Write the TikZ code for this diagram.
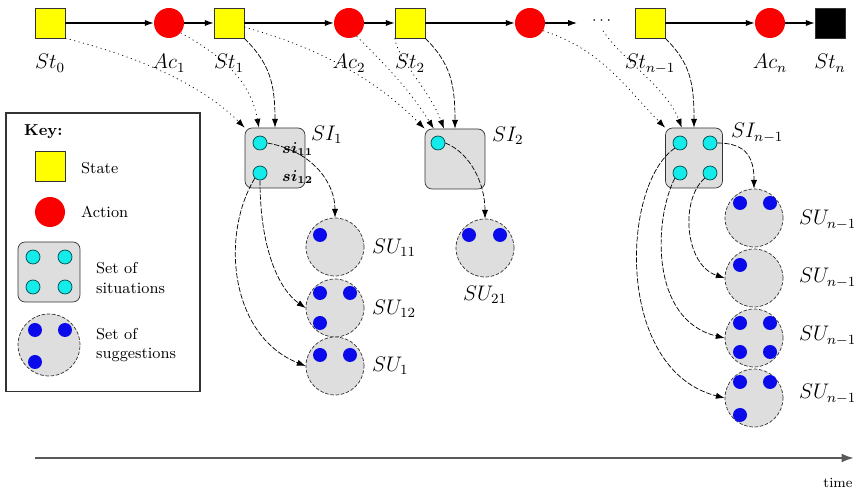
\documentclass[tikz,border=0pt]{standalone}
\usepackage{amsmath}
\usepackage{tikz}
\usetikzlibrary{positioning, arrows.meta, calc}
\definecolor{stateyellow}{RGB}{255,255,0}
\definecolor{actionred}{RGB}{250,0,0}
\definecolor{setgray}{RGB}{222,222,222}
\definecolor{sitcyan}{RGB}{20,235,235}
\definecolor{sugblue}{RGB}{10,10,235}
\tikzset{
  state/.style={rectangle, minimum size=0.6cm, inner sep=0pt, draw=black!80, fill=stateyellow},
  action/.style={circle, minimum size=0.6cm, inner sep=0pt, fill=actionred},
  sitset/.style={rectangle, rounded corners=4pt, minimum width=1.2cm, minimum height=1.2cm, inner sep=0pt, draw=black!80, fill=setgray},
  sugset/.style={circle, minimum size=1.16cm, inner sep=0pt, draw=black!80, dash pattern=on 2pt off 1pt, fill=setgray},
  sitdot/.style={circle, minimum size=0.28cm, inner sep=0pt, draw=teal!60!black, fill=sitcyan},
  sugdot/.style={circle, minimum size=0.28cm, inner sep=0pt, fill=sugblue},
  lbl/.style={font=\large},
  arrow/.style={line width=0.6pt, ->, >={Latex[length=5pt,width=3.5pt]}},
  history/.style={->, >={Latex[length=5pt,width=3.5pt]}, dash pattern=on 0.6pt off 2pt},
  link/.style={->, >={Latex[length=5pt,width=3.5pt]}, dash pattern=on 3pt off 1pt},
  timeline/.style={line width=1.2pt, draw=black!65, -{Latex[length=7pt,width=5pt]}}
}
\begin{document}
\begin{tikzpicture}[x=0.02cm, y=-0.02cm, every node/.style={font=\small}]
    \useasboundingbox (0,0) rectangle (859,492);

    % states and actions along the top
    \node (St0) [state] at (50,23) {};
    \node (Ac1) [action] at (169,23) {};
    \node (St1) [state] at (229,23) {};
    \node (Ac2) [action] at (349,23) {};
    \node (St2) [state] at (410,23) {};
    \node (Ac3) [action] at (530,23) {};
    \coordinate (gap) at (577,23);
    \node (dots) at (603,21) {$\cdots$};
    \node (Stn1) [state] at (650,23) {};
    \node (Acn) [action] at (770,23) {};
    \node (Stn) [state, fill=black] at (830,23) {};

    \node (lSt0) [lbl, below=0.2cm of St0] {$St_0$};
    \node (lAc1) [lbl, below=0.2cm of Ac1] {$Ac_1$};
    \node (lSt1) [lbl, below=0.2cm of St1] {$St_1$};
    \node (lAc2) [lbl, below=0.2cm of Ac2] {$Ac_2$};
    \node (lSt2) [lbl, below=0.2cm of St2] {$St_2$};
    \node (lStn1) [lbl, below=0.2cm of Stn1] {$St_{n-1}$};
    \node (lAcn) [lbl, below=0.2cm of Acn] {$Ac_n$};
    \node (lStn) [lbl, below=0.2cm of Stn] {$St_n$};

    \draw [arrow] (St0) -- (Ac1);
    \draw [arrow] (Ac1) -- (St1);
    \draw [arrow] (St1) -- (Ac2);
    \draw [arrow] (Ac2) -- (St2);
    \draw [arrow] (St2) -- (Ac3);
    \draw [arrow] (Ac3) -- (gap);
    \draw [arrow] (Stn1) -- (Acn);
    \draw [arrow] (Acn) -- (Stn);

    % key
    \node (keybox) [draw=black!80, line width=0.6pt, minimum width=3.88cm, minimum height=5.58cm, inner sep=0pt] at (103,252.5) {};
    \node (keytitle) [font=\small\bfseries, anchor=west] at (18,132) {Key:};
    \node (keyState) [state] at (50,166) {};
    \node (keyStateText) [anchor=west] at (75,168) {State};
    \node (keyAction) [action] at (50,212) {};
    \node (keyActionText) [anchor=west] at (75,212) {Action};
    \node (keySit) [sitset, minimum width=1.24cm] at (49,272) {};
    \node (keySit1) [sitdot] at (33,257) {};
    \node (keySit2) [sitdot] at (65,257) {};
    \node (keySit3) [sitdot] at (33,287) {};
    \node (keySit4) [sitdot] at (65,287) {};
    \node (keySitText) [anchor=west, align=left] at (90,278) {Set of\\situations};
    \node (keySug) [sugset, minimum size=1.24cm] at (49,345) {};
    \node (keySug1) [sugdot] at (35,330) {};
    \node (keySug2) [sugdot] at (65,330) {};
    \node (keySug3) [sugdot] at (35,362) {};
    \node (keySugText) [anchor=west, align=left] at (90,345) {Set of\\suggestions};

    % first set of situations
    \node (SI1) [sitset] at (275,158) {};
    \node (si11) [sitdot] at (260,143) {};
    \node (si12) [sitdot] at (260,173) {};
    \node (lsi11) [font=\small\boldmath, anchor=west] at (276,149) {$si_{11}$};
    \node (lsi12) [font=\small\boldmath, anchor=west] at (276,177) {$si_{12}$};
    \node (lSI1) [lbl, anchor=west] at (305,135) {$SI_1$};

    \node (SU11) [sugset] at (335,247) {};
    \node (SU11a) [sugdot] at (320,235) {};
    \node (lSU11) [lbl, anchor=west] at (366,248) {$SU_{11}$};
    \node (SU12) [sugset] at (335,308) {};
    \node (SU12a) [sugdot] at (320,293) {};
    \node (SU12b) [sugdot] at (350,293) {};
    \node (SU12c) [sugdot] at (320,323) {};
    \node (lSU12) [lbl, anchor=west] at (366,309) {$SU_{12}$};
    \node (SU1) [sugset] at (335,366) {};
    \node (SU1a) [sugdot] at (320,355) {};
    \node (SU1b) [sugdot] at (350,355) {};
    \node (lSU1) [lbl, anchor=west] at (366,366) {$SU_1$};

    % second set of situations
    \node (SI2) [sitset] at (455,159) {};
    \node (si21) [sitdot] at (438,143) {};
    \node (lSI2) [lbl, anchor=west] at (486,136) {$SI_2$};
    \node (SU21) [sugset] at (485,248) {};
    \node (SU21a) [sugdot] at (469,235) {};
    \node (SU21b) [sugdot] at (500,235) {};
    \node (lSU21) [lbl, below=0.05cm of SU21] {$SU_{21}$};

    % last set of situations
    \node (SIn1) [sitset, minimum width=1.14cm] at (694,158) {};
    \node (sin11) [sitdot] at (680,143) {};
    \node (sin12) [sitdot] at (710,143) {};
    \node (sin21) [sitdot] at (680,173) {};
    \node (sin22) [sitdot] at (710,173) {};
    \node (lSIn1) [lbl, anchor=west] at (725,133) {$SI_{n-1}$};

    \node (SUa) [sugset] at (754,218) {};
    \node (SUa1) [sugdot] at (740,203) {};
    \node (SUa2) [sugdot] at (770,203) {};
    \node (lSUa) [lbl, anchor=west] at (793,220) {$SU_{n-1}$};
    \node (SUb) [sugset] at (754,278) {};
    \node (SUb1) [sugdot] at (740,265) {};
    \node (lSUb) [lbl, anchor=west] at (793,278) {$SU_{n-1}$};
    \node (SUc) [sugset] at (754,338) {};
    \node (SUc1) [sugdot] at (740,323) {};
    \node (SUc2) [sugdot] at (770,323) {};
    \node (SUc3) [sugdot] at (740,352) {};
    \node (SUc4) [sugdot] at (770,352) {};
    \node (lSUc) [lbl, anchor=west] at (793,336) {$SU_{n-1}$};
    \node (SUd) [sugset] at (754,398) {};
    \node (SUd1) [sugdot] at (740,382) {};
    \node (SUd2) [sugdot] at (770,382) {};
    \node (SUd3) [sugdot] at (740,415) {};
    \node (lSUd) [lbl, anchor=west] at (793,394) {$SU_{n-1}$};

    % history into the sets of situations
    \draw [history] (St0.south east) .. controls +(80,20) and +(-40,-40) .. (SI1.north west);
    \draw [history] (Ac1.-40) .. controls +(45,25) and +(-8,-45) .. (SI1.118);
    \draw [link] (St1.south east) .. controls +(25,25) and +(0,-45) .. (SI1.north);

    \draw [history] (St1.-15) .. controls +(90,25) and +(-40,-40) .. (SI2.north west);
    \draw [history] (Ac2.-60) .. controls +(30,30) and +(-25,-40) .. (SI2.125);
    \draw [history] (St2.south west) .. controls +(5,25) and +(-15,-40) .. (SI2.110);
    \draw [link] (St2.south east) .. controls +(25,25) and +(0,-45) .. (SI2.north);

    \draw [history] (Ac3.-30) .. controls +(60,20) and +(-40,-40) .. (SIn1.north west);
    \draw [history] (dots.south) .. controls +(20,30) and +(-15,-40) .. (SIn1.112);
    \draw [link] (Stn1.south east) .. controls +(25,25) and +(0,-45) .. (SIn1.north);

    % situations to suggestions
    \draw [link] (si11.east) .. controls +(45,8) and +(0,-35) .. (SU11.north);
    \draw [link] (si12.south) .. controls +(0,70) and +(-26,-18) .. (SU12.west);
    \draw [link] (si12.south west) .. controls +(-35,58) and +(-75,-30) .. (SU1.west);

    \draw [link] (si21.east) .. controls +(25,10) and +(0,-35) .. (SU21.north);

    \draw [link] (sin12.east) .. controls +(30,0) and +(0,-30) .. (SUa.north);
    \draw [link] (sin22.south west) .. controls +(-25,21) and +(-40,-13) .. (SUb.west);
    \draw [link] (sin21.south west) .. controls +(-21,41) and +(-75,-18) .. (SUc.west);
    \draw [link] (sin11.south west) .. controls +(-54,37) and +(-110,-28) .. (SUd.west);

    % time axis
    \coordinate (t0) at (35,458);
    \coordinate (t1) at (854,458);
    \draw [timeline] (t0) -- (t1);
    \node (timelbl) [font=\footnotesize] at (838,483) {time};
\end{tikzpicture}
\end{document}
